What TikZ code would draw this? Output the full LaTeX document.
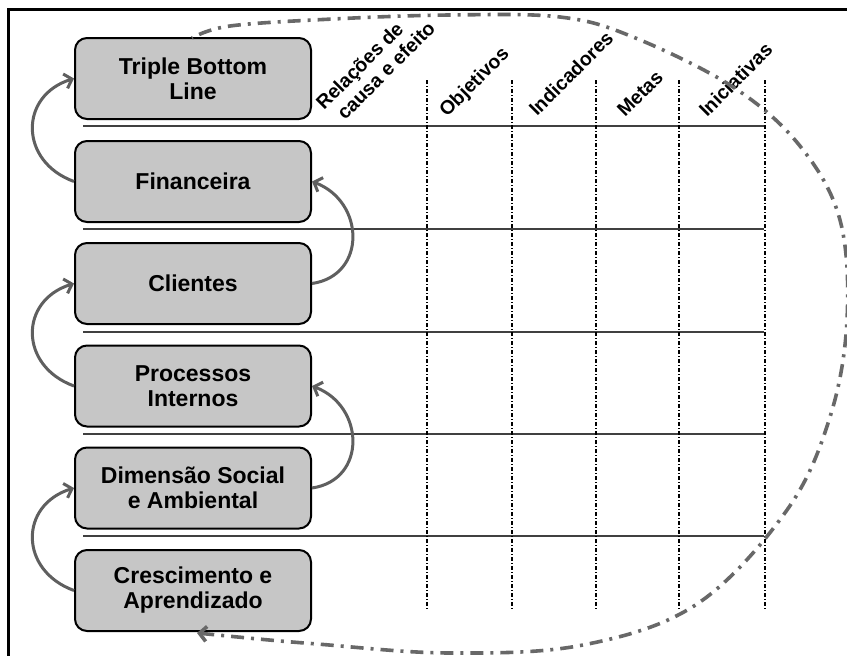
\documentclass[tikz,border=0pt]{standalone}
\usepackage{fontspec}
\setmainfont{Liberation Sans}
\usetikzlibrary{arrows.meta}
\definecolor{boxfill}{HTML}{C6C6C6}
\definecolor{arrgray}{HTML}{5F5F5F}
\definecolor{loopgray}{HTML}{686868}
\definecolor{rulegray}{HTML}{404040}
\tikzset{
  persp/.style={draw=black, line width=2pt, rounded corners=12pt, fill=boxfill,
    minimum width=236pt, minimum height=81pt, align=center, inner sep=2pt,
    font=\fontsize{23}{25}\selectfont\bfseries},
  head/.style={rotate=45, anchor=base west, inner sep=0pt,
    font=\fontsize{19.5}{22}\selectfont\bfseries},
  link/.style={draw=arrgray, line width=3pt, -{Straight Barb[length=7pt,width=15pt]}},
  rowline/.style={draw=rulegray, line width=1.4pt},
  colline/.style={draw=black, line width=1.1pt, dash pattern=on 4pt off 2pt on 1pt off 2pt},
  loopline/.style={draw=loopgray, line width=3.6pt, dash pattern=on 13pt off 7pt on 3pt off 7pt,
    {Straight Barb[length=7pt,width=15pt]}-}
}
\begin{document}
\begin{tikzpicture}[x=1pt,y=-1pt]
\useasboundingbox (0,0) rectangle (847,656);
\clip (0,0) rectangle (847,656);
\fill[white] (0,0) rectangle (847,656);
% frame
\draw[line width=3pt] (8.5,9) rectangle (880,700);
% row lines
\foreach \yy in {126,229,332,434,536} \draw[rowline] (83,\yy) -- (764,\yy);
% column lines
\foreach \xx in {427,512,596,679,765} \draw[colline] (\xx,80) -- (\xx,610);
% headers
\node[head] (h1a) at (324,111) {Relações de};
\node[head] (h1b) at (345,121) {causa e efeito};
\node[head] (h2) at (447,118) {Objetivos};
\node[head] (h3) at (537,117) {Indicadores};
\node[head] (h4) at (625,118) {Metas};
\node[head] (h5) at (707,118) {Iniciativas};
% boxes
\node[persp] (tbl) at (193,78.5) {Triple Bottom\\Line};
\node[persp] (fin) at (193,181.5) {Financeira};
\node[persp] (cli) at (193,283.5) {Clientes};
\node[persp] (pro) at (193,386) {Processos\\Internos};
\node[persp] (dim) at (193,488) {Dimensão Social\\e Ambiental};
\node[persp] (cre) at (193,590.5) {Crescimento e\\Aprendizado};
% cause-effect arrows
\draw[link] (fin.west) .. controls +(-55,-20) and +(-55,17) .. (tbl.west);
\draw[link] (pro.west) .. controls +(-55,-20) and +(-55,17) .. (cli.west);
\draw[link] (cre.west) .. controls +(-55,-20) and +(-55,17) .. (dim.west);
\draw[link] (cli.east) .. controls +(55,-8) and +(53,20) .. (fin.east);
\draw[link] (dim.east) .. controls +(55,-8) and +(53,20) .. (pro.east);
% big loop
\coordinate (ls) at (197,633);
\coordinate (le) at (192,38);
\draw[loopline] plot[smooth, tension=0.6] coordinates {(197,633) (317,644) (450,653) (583,645) (697,604) (787,510) (830,417) (847,320) (840,220) (800,146) (733,87) (633,37) (560,17) (450,15) (333,19) (230,26) (192,38)};
\end{tikzpicture}
\end{document}
